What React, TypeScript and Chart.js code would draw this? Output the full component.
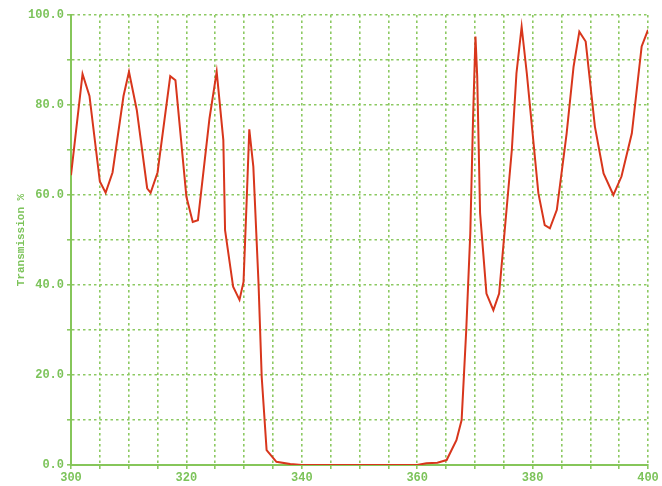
import React, { useEffect, useRef } from "react";
import { Chart, registerables } from "chart.js";

Chart.register(...registerables);

const wavelength = [
  300, 302.0, 303.2, 305, 306, 307.2, 309.1, 310.05, 311.4, 313.2, 313.8, 315,
  317.2, 318.1, 320, 321.1, 322, 324, 325.25, 326.4, 326.7, 328.1, 329.2, 329.9,
  330.45, 330.9, 331.6, 332.5, 333.05, 333.9, 335.6, 338, 340, 345, 350, 355,
  360, 361.6, 363.5, 365.1, 366.8, 367.7, 368.5, 369.2, 369.7, 370.1, 370.4,
  370.9, 372.0, 373.2, 374.2, 376.4, 377.2, 378.1, 379, 381, 382.1, 383, 384.2,
  385.9, 387.1, 388.1, 389.2, 390.8, 392.3, 394, 395.4, 397.2, 398.9, 400,
];
const transmission = [
  64.4, 86.9, 82, 63, 60.5, 65, 82, 87.4, 78.9, 61.5, 60.5, 65,
  86.4, 85.5, 59.6, 54, 54.4, 77, 87.4, 72.2, 52.2, 39.6, 36.7, 40.7,
  58.9, 74.6, 66.3, 40.4, 19.6, 3.3, 0.7, 0.2, 0, 0, 0, 0,
  0, 0.4, 0.5, 1.1, 5.5, 10, 30, 51.5, 78, 95.2, 86.3,
  55.9, 38.1, 34.4, 38.1, 70, 87, 97.4, 87, 60.4, 53.3, 52.6, 56.7,
  73.7, 88.5, 96.3, 94.1, 75.2, 64.8, 60, 64.1, 73.7, 93, 96.7,
];
const xTickLabels = [300, 320, 340, 360, 380, 400];
const yTickLabels = [0, 20, 40, 60, 80, 100];
const yTitle = "Transmission %";

const GREEN = "#8cc962";
const AXIS_GREEN = "#86c65a";
const TEXT_GREEN = "#7cc35a";
const LINE = "#d8361c";

export default function App() {
  const ref = useRef<HTMLCanvasElement | null>(null);
  useEffect(() => {
    if (!ref.current) return;
    const chart = new Chart(ref.current, {
      type: "line",
      data: {
        datasets: [
          {
            data: wavelength.map((x, i) => ({ x, y: transmission[i] })),
            borderColor: LINE,
            borderWidth: 2,
            pointRadius: 0,
            tension: 0,
            fill: false,
          },
        ],
      },
      options: {
        animation: false,
        responsive: false,
        maintainAspectRatio: false,
        layout: { padding: { top: 15, right: 14, left: 0, bottom: 0 } },
        plugins: { legend: { display: false }, tooltip: { enabled: false } },
        scales: {
          x: {
            type: "linear",
            min: 300,
            max: 400,
            afterFit: (s: any) => {
              s.height = 21;
            },
            grid: {
              color: GREEN,
              lineWidth: 1.6,
              tickLength: 4,
              drawTicks: true,
            },
            border: { display: true, color: AXIS_GREEN, width: 2, dash: [2.5, 3] },
            ticks: {
              stepSize: 5,
              autoSkip: false,
              maxRotation: 0,
              padding: 2,
              color: TEXT_GREEN,
              font: { family: "Liberation Mono", size: 12, weight: "bold" },
              callback: (v: any) =>
                xTickLabels.includes(Number(v)) ? String(v) : "",
            },
          },
          y: {
            type: "linear",
            min: 0,
            max: 100,
            afterFit: (s: any) => {
              s.width = 71;
            },
            grid: {
              color: GREEN,
              lineWidth: 1.6,
              tickLength: 4,
            },
            border: { display: true, color: AXIS_GREEN, width: 2, dash: [2.5, 3] },
            title: {
              display: true,
              text: yTitle,
              color: TEXT_GREEN,
              font: { family: "Liberation Mono", size: 11, weight: "bold" },
              padding: { top: 15, bottom: 0 },
            },
            ticks: {
              stepSize: 10,
              autoSkip: false,
              padding: 3,
              color: TEXT_GREEN,
              font: { family: "Liberation Mono", size: 12, weight: "bold" },
              callback: (v: any) =>
                yTickLabels.includes(Number(v)) ? Number(v).toFixed(1) : "",
            },
          },
        },
      },
    } as any);
    return () => chart.destroy();
  }, []);
  return (
    <div style={{ position: "fixed", left: 0, top: 0, width: 662, height: 486, background: "#fff" }}>
      <canvas ref={ref} width={662} height={486} style={{ width: 662, height: 486 }} />
    </div>
  );
}
